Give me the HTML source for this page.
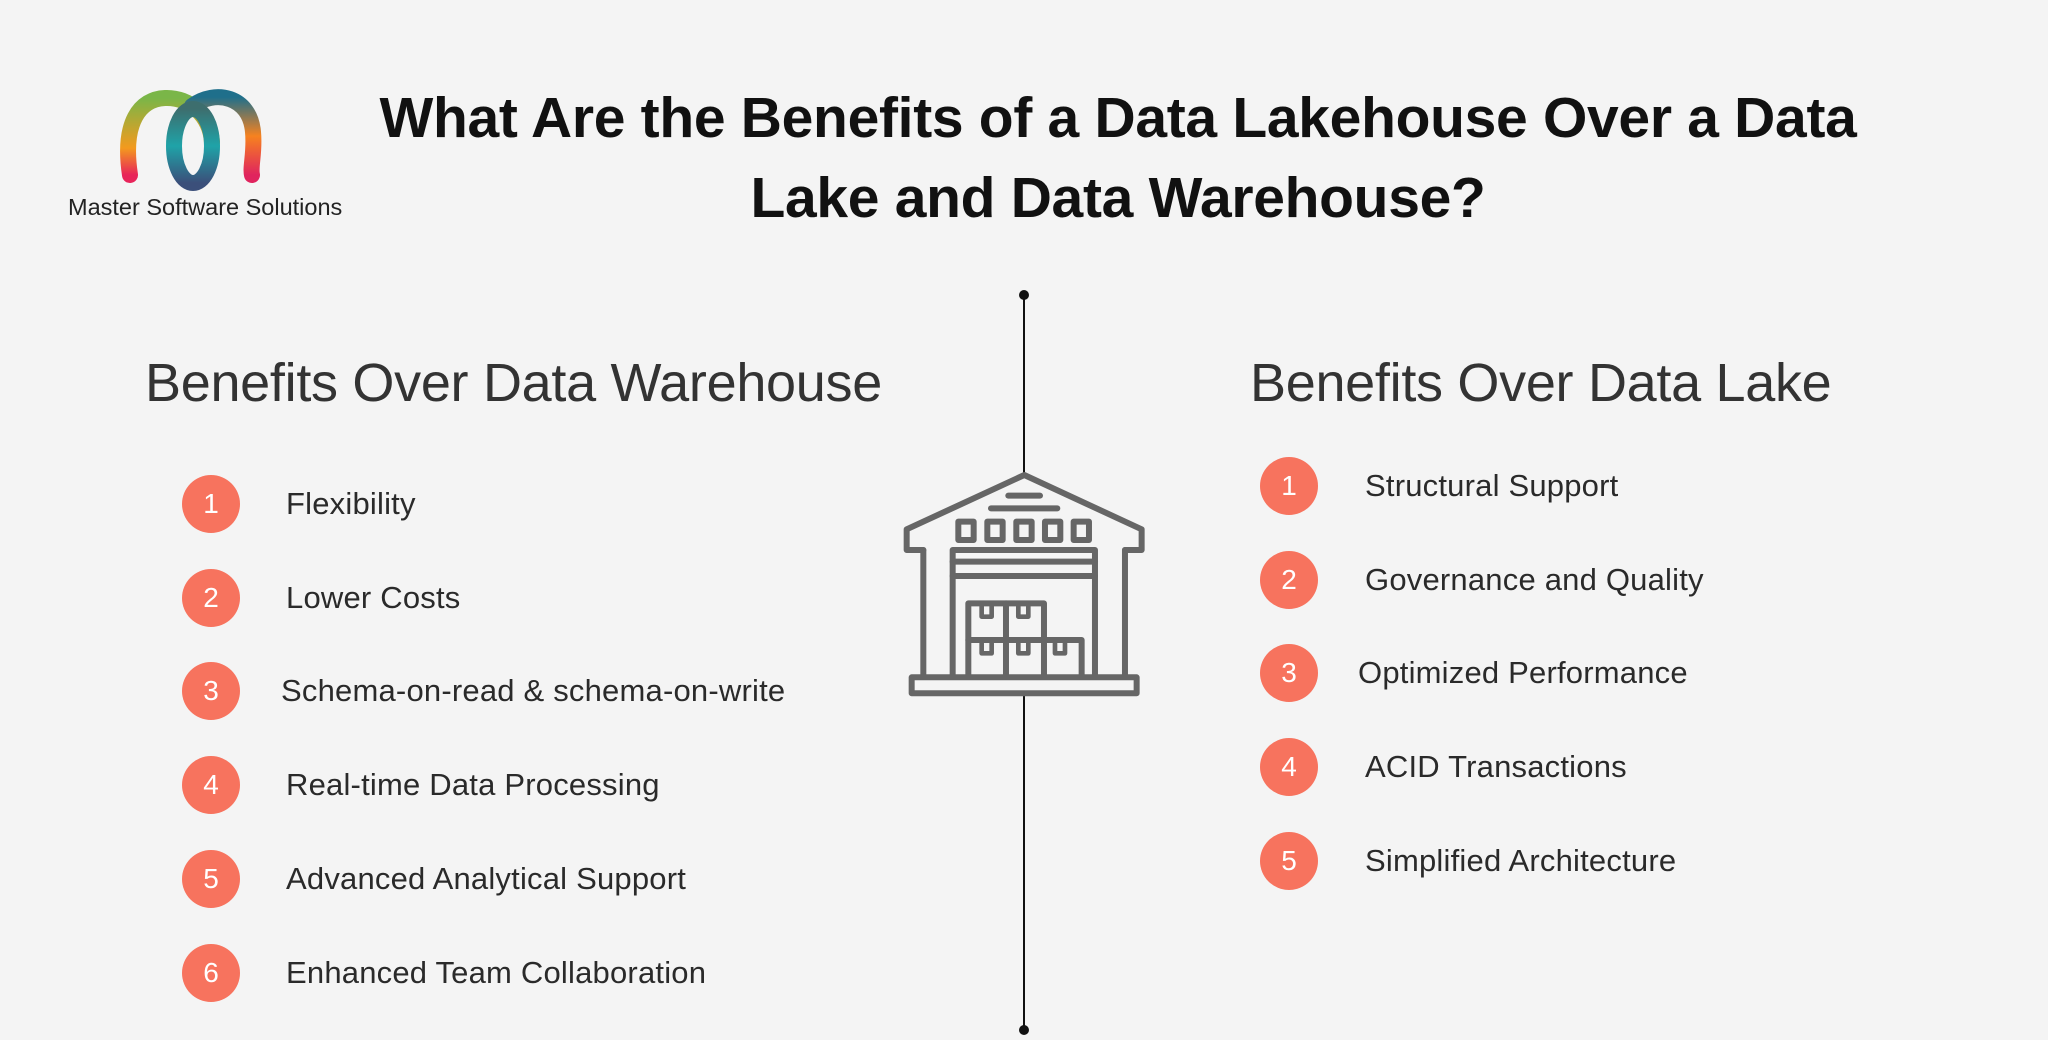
<!DOCTYPE html>
<html><head><meta charset="utf-8"><style>
body{margin:0;width:2048px;height:1040px;background:#f4f4f4;position:relative;overflow:hidden;font-family:"Liberation Sans",sans-serif;color:#222}
.t{position:absolute;white-space:nowrap}
.title{left:0;width:2236px;text-align:center;font-weight:bold;font-size:57px;color:#111;letter-spacing:-0.3px}
.h{font-size:54px;color:#333;letter-spacing:-0.3px}
.c{position:absolute;width:58px;height:58px;border-radius:50%;background:#f7735e;color:#fff;font-size:28px;text-align:center;line-height:58px}
.i{font-size:31px;color:#2a2a2a;letter-spacing:0.2px}
</style></head><body>
<svg style="position:absolute;left:0;top:0" width="2048" height="1040">
<defs>
<linearGradient id="g1" x1="0" y1="1" x2="0" y2="0"><stop offset="0" stop-color="#e8245a"/><stop offset="0.35" stop-color="#f39a1e"/><stop offset="1" stop-color="#7ab648"/></linearGradient>
<linearGradient id="g2" x1="0" y1="0" x2="0" y2="1"><stop offset="0" stop-color="#1f6f8b"/><stop offset="0.5" stop-color="#f6821f"/><stop offset="1" stop-color="#e0245e"/></linearGradient>
<linearGradient id="g3" x1="0" y1="0" x2="0" y2="1"><stop offset="0" stop-color="#3d6e6e"/><stop offset="0.5" stop-color="#1fa3a8"/><stop offset="1" stop-color="#3b4f7a"/></linearGradient>
</defs>
<path d="M130,175 C122,122 140,99 165,98 C190,97 210,116 212,142" fill="none" stroke="url(#g1)" stroke-width="16" stroke-linecap="round"/>
<path d="M192,106 C215,89 250,96 253,132 C255,152 250,167 252,175" fill="none" stroke="url(#g2)" stroke-width="16" stroke-linecap="round"/>
<ellipse cx="193" cy="146" rx="19" ry="37" fill="none" stroke="url(#g3)" stroke-width="16"/>
<line x1="1024" y1="295" x2="1024" y2="475" stroke="#111" stroke-width="2"/>
<line x1="1024" y1="695" x2="1024" y2="1030" stroke="#111" stroke-width="2"/>
<circle cx="1024" cy="295" r="5" fill="#111"/><circle cx="1024" cy="1030" r="5" fill="#111"/>
<g transform="translate(880,440) scale(0.3333)" fill="none" stroke="#666" stroke-width="18" stroke-linejoin="round" stroke-linecap="round">
<path d="M130,330 L80,330 L80,268 L433,105 L785,268 L785,330 L735,330"/>
<line x1="130" y1="330" x2="130" y2="705"/><line x1="735" y1="330" x2="735" y2="705"/>
<line x1="385" y1="167" x2="480" y2="167"/><line x1="333" y1="205" x2="532" y2="205"/>
<rect x="235" y="245" width="46" height="55"/><rect x="322" y="245" width="46" height="55"/><rect x="409" y="245" width="46" height="55"/><rect x="495" y="245" width="46" height="55"/><rect x="581" y="245" width="46" height="55"/>
<path d="M218,705 L218,330 L645,330 L645,705"/>
<line x1="218" y1="365" x2="645" y2="365"/><line x1="218" y1="408" x2="645" y2="408"/>
<path d="M265,705 L265,490 L492,490 L492,600 L605,600 L605,705"/>
<line x1="265" y1="600" x2="492" y2="600"/><line x1="378" y1="490" x2="378" y2="705"/><line x1="492" y1="600" x2="492" y2="705"/>
<path d="M305,500 V530 H335 V500 M415,500 V530 H445 V500 M305,610 V640 H335 V610 M415,610 V640 H445 V610 M525,610 V640 H555 V610" stroke-width="14"/>
<rect x="95" y="712" width="675" height="48"/>
</g>
</svg>
<div class="t" style="left:68px;top:194px;font-size:23.5px;color:#222">Master Software Solutions</div>
<div class="t title" style="top:85px">What Are the Benefits of a Data Lakehouse Over a Data</div>
<div class="t title" style="top:165px">Lake and Data Warehouse?</div>
<div class="t h" style="left:145px;top:352px">Benefits Over Data Warehouse</div>
<div class="t h" style="left:1250px;top:352px">Benefits Over Data Lake</div>
<div class="c" style="left:182px;top:475px">1</div><div class="t i" style="left:286px;top:486px">Flexibility</div>
<div class="c" style="left:182px;top:569px">2</div><div class="t i" style="left:286px;top:580px">Lower Costs</div>
<div class="c" style="left:182px;top:662px">3</div><div class="t i" style="left:281px;top:673px">Schema-on-read &amp; schema-on-write</div>
<div class="c" style="left:182px;top:756px">4</div><div class="t i" style="left:286px;top:767px">Real-time Data Processing</div>
<div class="c" style="left:182px;top:850px">5</div><div class="t i" style="left:286px;top:861px">Advanced Analytical Support</div>
<div class="c" style="left:182px;top:944px">6</div><div class="t i" style="left:286px;top:955px">Enhanced Team Collaboration</div>
<div class="c" style="left:1260px;top:457px">1</div><div class="t i" style="left:1365px;top:468px">Structural Support</div>
<div class="c" style="left:1260px;top:551px">2</div><div class="t i" style="left:1365px;top:562px">Governance and Quality</div>
<div class="c" style="left:1260px;top:644px">3</div><div class="t i" style="left:1358px;top:655px">Optimized Performance</div>
<div class="c" style="left:1260px;top:738px">4</div><div class="t i" style="left:1365px;top:749px">ACID Transactions</div>
<div class="c" style="left:1260px;top:832px">5</div><div class="t i" style="left:1365px;top:843px">Simplified Architecture</div>
</body></html>
